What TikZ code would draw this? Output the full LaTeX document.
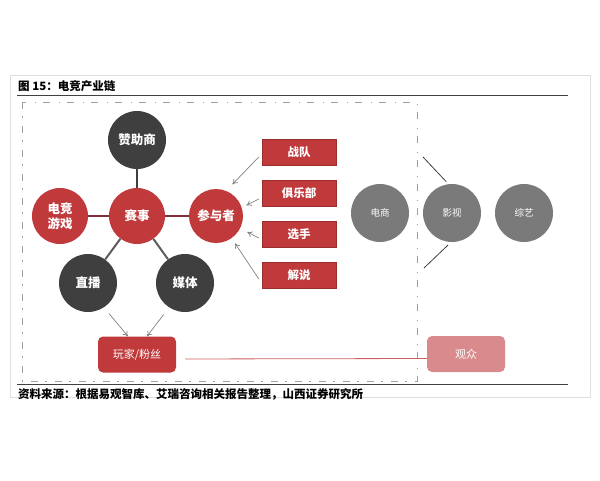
\documentclass[tikz,border=0pt]{standalone}
\usepackage{fontspec}
\setmainfont{Noto Sans CJK SC}
\usetikzlibrary{arrows.meta}
\definecolor{cred}{HTML}{C0393B}
\definecolor{cdark}{HTML}{3F3F3F}
\definecolor{cgrey}{HTML}{7A7A7A}
\definecolor{cpink}{HTML}{D98A8C}
\definecolor{clink}{HTML}{7E2E36}
\begin{document}
\begin{tikzpicture}[x=1pt,y=-1pt,
    redball/.style={circle, fill=cred, minimum size=56pt, inner sep=0pt, text=white, align=center,
      font=\bfseries\fontsize{12.5pt}{15pt}\selectfont},
    darkball/.style={redball, fill=cdark, minimum size=58pt},
    greyball/.style={circle, fill=cgrey, minimum size=58pt, inner sep=0pt, text=white,
      font=\fontsize{9.5pt}{10pt}\selectfont},
    redbox/.style={fill=cred, draw=cred!80!black, minimum width=74pt, minimum height=26pt, inner sep=0pt,
      text=white, font=\bfseries\fontsize{11.5pt}{11pt}\selectfont},
    fanbox/.style={fill=cred, rounded corners=5pt, minimum width=78pt, minimum height=36pt, inner sep=0pt,
      text=white, font=\fontsize{11pt}{11pt}\selectfont},
    link/.style={line width=2pt},
    pointer/.style={-{To[length=5pt,width=6pt]}, gray, line width=0.7pt}]
\useasboundingbox (0,0) rectangle (600,480);

% frame, title and source
\draw[gray!25] (10,75) rectangle (590,397);
\node[anchor=west, inner sep=0pt, font=\bfseries\fontsize{11.5pt}{11pt}\selectfont] (title) at (18,86) {图 15：电竞产业链};
\draw[line width=1pt, black!75] (17,95) -- (568,95);
\draw[gray!75, line width=0.9pt, dash pattern=on 7pt off 7pt on 1.5pt off 8.5pt] (22,102) rectangle (417,381);
\draw[line width=1pt, black!75] (17,384) -- (568,384);
\node[anchor=west, inner sep=0pt, font=\bfseries\fontsize{11.5pt}{11pt}\selectfont] (source) at (18,394)
  {资料来源：根据易观智库、艾瑞咨询相关报告整理，山西证券研究所};

% core of the chain
\node[darkball] (sponsor) at (137,140) {赞助商};
\node[redball] (game) at (60,216) {电竞\\游戏};
\node[redball] (match) at (137,216) {赛事};
\node[redball, minimum size=54pt] (part) at (216,216) {参与者};
\node[darkball] (live) at (88,283) {直播};
\node[darkball] (media) at (185,283) {媒体};
\node[fanbox] (fan) at (137,354.5) {玩家/粉丝};
\node[fanbox, fill=cpink] (aud) at (466,354) {观众};

\draw[link, cdark] (sponsor) -- (match);
\draw[link, clink] (game) -- (match);
\draw[link, clink] (match) -- (part);
\draw[link, cdark!85] (match) -- (live);
\draw[link, cdark!85] (match) -- (media);

% participants
\foreach \t [count=\i] in {战队,俱乐部,选手,解说} {
  \node[redbox] (role\i) at (299,111+41*\i) {\t};
}
\draw[pointer, shorten >=9pt] ([shift={(-3pt,-5pt)}]role1.west) -- (part.68);
\draw[pointer, shorten >=5pt] ([shift={(-3pt,-6pt)}]role2.west) -- (part.18);
\draw[pointer, shorten >=8pt] ([shift={(-3pt,-4pt)}]role3.west) -- (part.-27);
\draw[pointer, shorten >=6pt] ([shift={(-3pt,-4pt)}]role4.west) -- (part.-55);

% audience
\draw[pointer, shorten <=8pt] (live.-57) -- ([xshift=-9pt]fan.north);
\draw[pointer, shorten <=9pt] (media.-123) -- ([xshift=10pt]fan.north);
\draw[cred!80, line width=0.8pt, shorten <=9pt] ([yshift=-4.5pt]fan.east) -- ([yshift=-4.5pt]aud.west);

% derived business
\foreach \t/\n [count=\i] in {电商/shop,影视/film,综艺/show} {
  \node[greyball] (\n) at (308+72*\i,213) {\t};
}
\coordinate (filmup) at (423,157);
\coordinate (filmdown) at (424,268);
\draw[cdark, line width=0.8pt, shorten >=3pt] (filmup) -- (film.97);
\draw[cdark, line width=0.8pt, shorten >=4pt] (filmdown) -- (film.-92);
\end{tikzpicture}
\end{document}
